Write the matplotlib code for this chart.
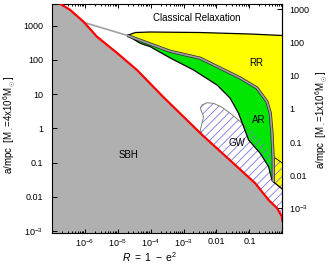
import numpy as np
import matplotlib
matplotlib.use("Agg")
import matplotlib.pyplot as plt
from matplotlib.ticker import NullLocator, LogLocator, NullFormatter
from matplotlib.patches import Polygon

plt.rcParams['font.family'] = ['Liberation Sans', 'DejaVu Sans']
plt.rcParams['mathtext.fontset'] = 'custom'
plt.rcParams['mathtext.rm'] = 'Liberation Sans'
plt.rcParams['mathtext.it'] = 'Liberation Sans:italic'
plt.rcParams['hatch.linewidth'] = 0.6

#----- SBH boundary (red line) -----#
sbh_R = [1.0e-7, 1.42e-7, 3.6e-7, 9.1e-7, 2.33e-6, 9.5e-6, 3.84e-5, 2.42e-4, 3.70e-3, 3.72e-2, 0.151, 0.384, 0.69, 0.98, 1.0]
sbh_a = [6200, 5050, 2880, 1310, 478, 160, 50.8, 8.24, 0.638, 0.0847, 0.0247, 0.00804, 0.00468, 0.00261, 0.0020]

#----- RR / AR split (grey line) -----#
split_R = [9.6e-7, 1.95e-5, 9.7e-5, 3.94e-4, 3.22e-3, 5.30e-2, 0.170, 0.343, 0.431, 0.486, 0.532, 0.532]
split_a = [1242, 520, 292, 179, 112, 29.6, 15.1, 6.01, 2.81, 0.73, 0.119, 0.0275]

#----- RR top (classical relaxation) and bottom -----#
rr_top_R = [1.95e-5, 3.40e-5, 9.7e-5, 3.22e-3, 0.106, 1.0]
rr_top_a = [520, 634, 656, 634, 573, 519]
rr_bot_R = [0.532, 1.0]
rr_bot_a = [0.0275, 0.0168]

#----- AR lower boundary -----#
ar_low_R = [1.95e-5, 4.83e-5, 9.73e-5, 3.94e-4, 2.01e-3, 1.04e-2, 2.62e-2, 4.69e-2, 6.67e-2, 9.46e-2, 0.214, 0.384, 0.486, 0.532]
ar_low_a = [520, 306, 244, 114, 50.8, 18.5, 7.55, 2.75, 1.12, 0.456, 0.186, 0.0755, 0.0308, 0.0275]

#----- GW region outline -----#
gw_R = [3.70e-3, 3.22e-3, 3.62e-3, 4.05e-3, 3.22e-3, 3.62e-3, 5.14e-3, 8.17e-3, 1.47e-2, 2.62e-2, 4.69e-2, 7.50e-2, 0.214, 0.612, 1.0]
gw_a = [0.64, 0.893, 1.40, 2.19, 3.85, 4.81, 5.61, 5.39, 4.12, 2.75, 1.75, 1.12, 0.505, 0.1355, 0.0968]

x_ticks = [1e-6, 1e-5, 1e-4, 1e-3, 1e-2, 1e-1]
x_labels = [r'$10^{-6}$', r'$10^{-5}$', r'$10^{-4}$', r'$10^{-3}$', '0.01', '0.1']
y_ticks = [1e-3, 1e-2, 1e-1, 1, 10, 100, 1000]
y_labels = [r'$10^{-3}$', '0.01', '0.1', '1', '10', '100', '1000']

# right axis is M = 1e6 instead of 4e6
def fwd(a):
    a = np.clip(np.asarray(a, dtype=float), 1e-30, None)
    return 10 ** (1.031 * np.log10(a) - 0.588)

def inv(r):
    r = np.clip(np.asarray(r, dtype=float), 1e-30, None)
    return 10 ** ((np.log10(r) + 0.588) / 1.031)


fig = plt.figure(figsize=(3.29, 2.70), dpi=100)
ax = fig.add_axes([0.158, 0.137, 0.700, 0.850])
ax.set_xscale("log")
ax.set_yscale("log")
ax.set_xlim(1e-7, 1)
ax.set_ylim(8.7e-4, 4470)

ax.fill_between(sbh_R, sbh_a, 1e-6, color='#b0b0b0', lw=0, zorder=1)

split_R = np.array(split_R); split_a = np.array(split_a)
yel = np.c_[np.r_[rr_top_R, rr_bot_R[::-1], split_R[1:][::-1]],
            np.r_[rr_top_a, rr_bot_a[::-1], split_a[1:][::-1]]]
ax.add_patch(Polygon(yel, closed=True, facecolor='#ffff00', lw=0, zorder=2))

grn = np.c_[np.r_[split_R[1:], ar_low_R[::-1]], np.r_[split_a[1:], ar_low_a[::-1]]]
ax.add_patch(Polygon(grn, closed=True, facecolor='#00e600', lw=0, zorder=3))

sR = np.array(sbh_R); sA = np.array(sbh_a)
m = sR > gw_R[0]
gw = np.c_[np.r_[gw_R, sR[m][::-1]], np.r_[gw_a, sA[m][::-1]]]
ax.add_patch(Polygon(gw, closed=True, facecolor='none', edgecolor='#7878dc', hatch='////', lw=0, zorder=4))
ax.plot(gw_R[:12], gw_a[:12], color='#808080', lw=0.7, zorder=5)
ax.plot(gw_R[-2:], gw_a[-2:], color='k', lw=0.6, zorder=5)

ax.plot(rr_top_R, rr_top_a, color='k', lw=0.9, zorder=6)
ax.plot(rr_bot_R, rr_bot_a, color='k', lw=0.9, zorder=6)
ax.plot(ar_low_R, ar_low_a, color='k', lw=0.9, zorder=6)
ax.plot(split_R[:2], split_a[:2], color='#a0a0a0', lw=1.2, zorder=6)
ax.plot(split_R[1:], split_a[1:], color='#303030', lw=2.3, zorder=6, solid_capstyle='butt')
ax.plot(split_R[1:], split_a[1:], color='#a0a0a0', lw=1.2, zorder=7, solid_capstyle='butt')
ax.plot(sbh_R, sbh_a, color='#ff0000', lw=1.6, zorder=8)

ax.text(2.43e-3, 1742, 'Classical Relaxation', fontsize=7, ha='center', va='center', zorder=9)
ax.text(0.158, 79.6, 'RR', fontsize=7, ha='center', va='center', zorder=9)
ax.text(0.186, 1.75, 'AR', fontsize=7, ha='center', va='center', zorder=9)
ax.text(0.042, 0.365, 'GW', fontsize=7, ha='center', va='center', zorder=9)
ax.text(2.08e-5, 0.166, 'SBH', fontsize=7, ha='center', va='center', zorder=9)

ax.set_xticks(x_ticks)
ax.set_xticklabels(x_labels)
ax.xaxis.set_minor_locator(LogLocator(base=10, subs=np.arange(2, 10), numticks=20))
ax.xaxis.set_minor_formatter(NullFormatter())
ax.set_yticks(y_ticks)
ax.set_yticklabels(y_labels)
ax.yaxis.set_minor_locator(NullLocator())
ax.tick_params(which='both', direction='in', top=True, right=False, labelsize=6.5, width=0.7)
ax.tick_params(axis='x', which='major', length=3, pad=3)
ax.tick_params(axis='x', which='minor', length=1.6)
ax.tick_params(axis='y', which='major', length=3.5, pad=6.5)
for s in ax.spines.values():
    s.set_linewidth(0.8)

sec = ax.secondary_yaxis('right', functions=(fwd, inv))
sec.set_yticks(y_ticks)
sec.set_yticklabels(y_labels)
sec.yaxis.set_minor_locator(NullLocator())
sec.tick_params(direction='in', length=3.5, labelsize=6.5, pad=5, width=0.7)
sec.spines['right'].set_linewidth(0.8)

fig.text(10/329, 1-124.5/270, r'a/mpc  [M$_\bullet$=4x10$^6$M$_\odot$]', rotation=90, ha='center', va='center', fontsize=7)
fig.text(322/329, 1-120/270, r'a/mpc  [M$_\bullet$=1x10$^6$M$_\odot$]', rotation=90, ha='center', va='center', fontsize=7)
fig.text(149.5/329, 1-256.7/270, r'$R\ =\ 1\ -\ \mathrm{e}^2$', ha='center', va='center', fontsize=7.5)

fig.savefig("out.png", dpi=100)
